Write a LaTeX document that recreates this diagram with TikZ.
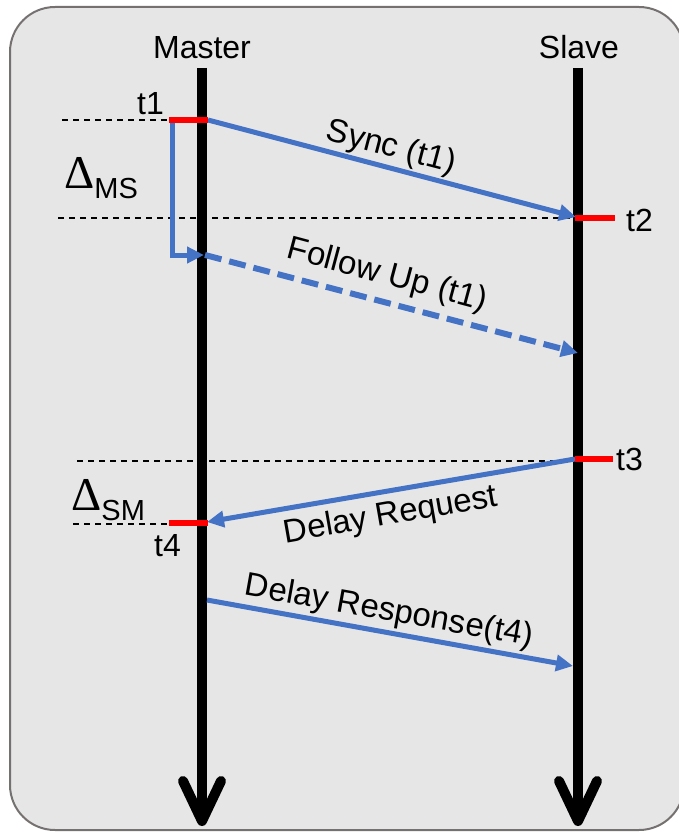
\documentclass[tikz,border=0pt]{standalone}
\usepackage{fontspec}
\setmainfont{Liberation Sans}
\newfontfamily\deltafont{Liberation Serif}
\usetikzlibrary{arrows.meta}

\definecolor{panelfill}{HTML}{E7E6E6}
\definecolor{panelline}{HTML}{767171}
\definecolor{msgblue}{HTML}{4472C4}
\definecolor{stampred}{HTML}{FF0000}

\tikzset{
  lifeline/.style={line width=10pt, black},
  lifetip/.style={line width=10pt, black, line cap=round, line join=round},
  msg/.style={line width=5pt, msgblue, -{Triangle[length=17pt,width=16pt]}},
  msgdashed/.style={msg, line width=6pt, dash pattern=on 17pt off 8pt},
  stamp/.style={line width=6.5pt, stampred},
  guide/.style={line width=1.3pt, black, dash pattern=on 6pt off 5pt},
  lbl/.style={inner sep=0pt, font=\fontsize{33}{39}\selectfont},
  stamplbl/.style={inner sep=0pt, font=\fontsize{32}{38}\selectfont},
  head/.style={inner sep=0pt, font=\fontsize{32}{38}\selectfont},
}

\newcommand{\deltasub}[1]{{\deltafont\fontsize{47}{47}\selectfont Δ}\raisebox{-10pt}{\fontsize{29}{34}\selectfont #1}}

\begin{document}
\begin{tikzpicture}[x=1pt, y=-1pt]
  \useasboundingbox (0,0) rectangle (679,832);
  \clip (0,0) rectangle (679,832);

  % panel
  \draw[panelline, fill=panelfill, line width=2pt, rounded corners=45pt]
    (10,7) rectangle (684,830);

  % lifelines
  \coordinate (mtop) at (202,68);
  \coordinate (mbot) at (202,818);
  \coordinate (stop) at (578,68);
  \coordinate (sbot) at (578,818);
  \draw[lifeline] (mtop) -- (mbot);
  \draw[lifeline] (stop) -- (sbot);
  \coordinate (mL) at (183,781);
  \coordinate (mT) at (202,821);
  \coordinate (mR) at (221,781);
  \coordinate (sL) at (559,781);
  \coordinate (sT) at (578,821);
  \coordinate (sR) at (597,781);
  \draw[lifetip] (mL) -- (mT) -- (mR);
  \draw[lifetip] (sL) -- (sT) -- (sR);

  \node[head, anchor=base] (master) at (202,59) {Master};
  \node[head, anchor=base] (slave) at (579,59) {Slave};

  % guide lines
  \coordinate (g1a) at (62,120);  \coordinate (g1b) at (170,120);
  \coordinate (g2a) at (58,218);  \coordinate (g2b) at (575,218);
  \coordinate (g3a) at (77,461);  \coordinate (g3b) at (575,461);
  \coordinate (g4a) at (73,524);  \coordinate (g4b) at (169,524);
  \draw[guide] (g1a) -- (g1b);
  \draw[guide] (g2a) -- (g2b);
  \draw[guide] (g3a) -- (g3b);
  \draw[guide] (g4a) -- (g4b);

  % time stamps
  \coordinate (t1a) at (169,120); \coordinate (t1b) at (208,120);
  \coordinate (t2a) at (575,218); \coordinate (t2b) at (615,218);
  \coordinate (t3a) at (575,459); \coordinate (t3b) at (613,459);
  \coordinate (t4a) at (169,523); \coordinate (t4b) at (208,523);

  % bracket from t1 to the follow-up send point
  \coordinate (bk1) at (172.5,118);
  \coordinate (bk2) at (172.5,255);
  \coordinate (bk3) at (204,255);
  \draw[msg, line join=miter] (bk1) -- (bk2) -- (bk3);

  % messages
  \coordinate (syncE) at (576,217);
  \coordinate (fuS) at (205,255);
  \coordinate (fuE) at (578,353);
  \coordinate (drqE) at (207,522);
  \coordinate (drsS) at (207,600);
  \coordinate (drsE) at (573,666);
  \draw[msg] (t1b) -- (syncE);
  \draw[msgdashed] (fuS) -- (fuE);
  \draw[msg] (t3a) -- (drqE);
  \draw[msg] (drsS) -- (drsE);

  \draw[stamp] (t1a) -- (t1b);
  \draw[stamp] (t2a) -- (t2b);
  \draw[stamp] (t3a) -- (t3b);
  \draw[stamp] (t4a) -- (t4b);

  % stamp labels
  \node[stamplbl, anchor=base east] (lt1) at (164,114) {t1};
  \node[stamplbl, anchor=base west] (lt2) at (626,231) {t2};
  \node[stamplbl, anchor=base west] (lt3) at (616,470) {t3};
  \node[stamplbl, anchor=base east] (lt4) at (181,556) {t4};

  % message labels
  \node[lbl, rotate=-14.7] (lsync) at (391,148) {Sync (t1)};
  \node[lbl, rotate=-15.0] (lfu) at (387,276) {Follow Up (t1)};
  \node[lbl, rotate=9.9] (ldrq) at (391,516) {Delay Request};
  \node[lbl, rotate=-10.1] (ldrs) at (389,612) {Delay Response(t4)};

  % offsets
  \node[inner sep=0pt, anchor=base west] (dms) at (64,188) {\deltasub{MS}};
  \node[inner sep=0pt, anchor=base west] (dsm) at (71,510) {\deltasub{SM}};
\end{tikzpicture}
\end{document}
